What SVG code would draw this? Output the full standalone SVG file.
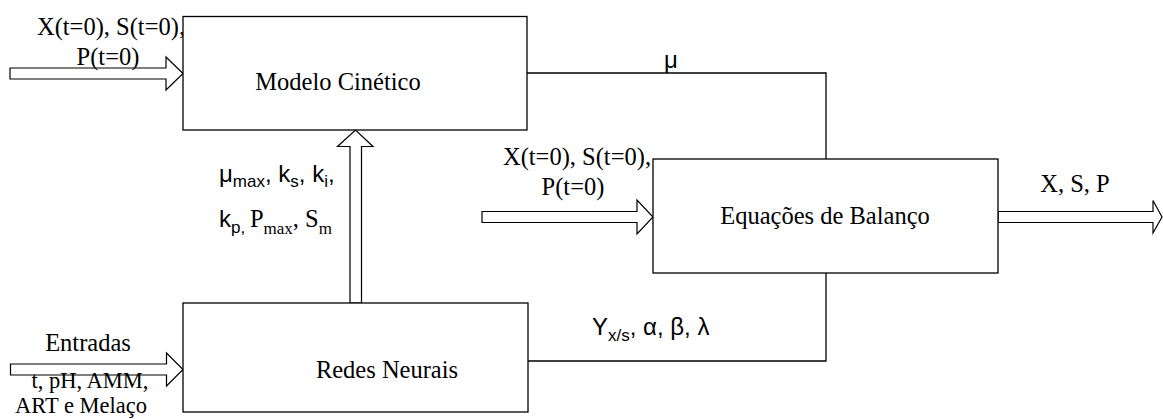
<svg xmlns="http://www.w3.org/2000/svg" width="1163" height="419" viewBox="0 0 1163 419">
<style>
.box{fill:#fff;stroke:#000;stroke-width:1.3}
.arr{fill:#fff;stroke:#000;stroke-width:1.2;stroke-linejoin:miter}
.ln{fill:none;stroke:#000;stroke-width:1.3}
.t{font-family:"Liberation Serif","Times New Roman",serif;font-size:24.5px;fill:#000}
.tsm{font-size:22.5px}
.s{font-family:"Liberation Sans",Arial,sans-serif;font-size:24px;fill:#000}
.sub{font-size:17px}
</style>
<rect width="1163" height="419" fill="#fff"/>
<g id="connectors">
<polyline class="ln" points="527,73 826,73 826,159"/>
<polyline class="ln" points="528,361 826,361 826,273"/>
<polygon class="arr" points="10,68 166,68 166,57 183,73.5 166,90 166,79 10,79"/>
<polygon class="arr" points="10.5,364 166.5,364 166.5,353 183,369.5 166.5,386 166.5,375 10.5,375"/>
<polygon class="arr" points="350,303 350,146.5 337.5,146.5 355.5,130 373,146.5 361.5,146.5 361.5,303"/>
<polygon class="arr" points="482,211.5 637,211.5 637,200 653,217 637,234 637,222.5 482,222.5"/>
<polygon class="arr" points="998,211.5 1153,211.5 1153,200.5 1162,217 1153,233 1153,222.5 998,222.5"/>
<text class="s" x="671" y="68" text-anchor="middle">μ</text>
<text class="s" x="592" y="335">Y<tspan class="sub" dy="6">x/s</tspan><tspan dy="-6">, α, β, λ</tspan></text>
<text class="s" x="219" y="182">μ<tspan class="sub" dy="5">max</tspan><tspan dy="-5">, k</tspan><tspan class="sub" dy="5">s</tspan><tspan dy="-5">, k</tspan><tspan class="sub" dy="5">i</tspan><tspan dy="-5">,</tspan></text>
<text class="s" x="219" y="227">k<tspan class="sub" dy="6">p, </tspan><tspan class="t" dy="-6">P</tspan><tspan class="t sub" dy="7">max</tspan><tspan class="t" dy="-7">, S</tspan><tspan class="t sub" dy="7">m</tspan></text>
<text class="t" x="111" y="35" text-anchor="middle">X(t=0), S(t=0),</text>
<text class="t" x="108" y="65" text-anchor="middle">P(t=0)</text>
<text class="t" x="577" y="165" text-anchor="middle">X(t=0), S(t=0),</text>
<text class="t" x="573" y="195" text-anchor="middle">P(t=0)</text>
<text class="t" x="1075" y="192" text-anchor="middle">X, S, P</text>
<text class="t" x="88" y="351" text-anchor="middle">Entradas</text>
<text class="t tsm" x="90" y="388" text-anchor="middle">t, pH, AMM,</text>
<text class="t tsm" x="81" y="413" text-anchor="middle">ART e Melaço</text>
</g>
<g id="modelo">
<rect class="box" x="183" y="16.5" width="344" height="113.5"/>
<text class="t" x="338" y="90" text-anchor="middle">Modelo Cinético</text>
</g>
<g id="redes">
<rect class="box" x="183" y="303" width="345" height="109"/>
<text class="t" x="387" y="378" text-anchor="middle">Redes Neurais</text>
</g>
<g id="equacoes">
<rect class="box" x="653" y="159" width="345" height="114"/>
<text class="t" x="825" y="224" text-anchor="middle">Equações de Balanço</text>
</g>
</svg>
